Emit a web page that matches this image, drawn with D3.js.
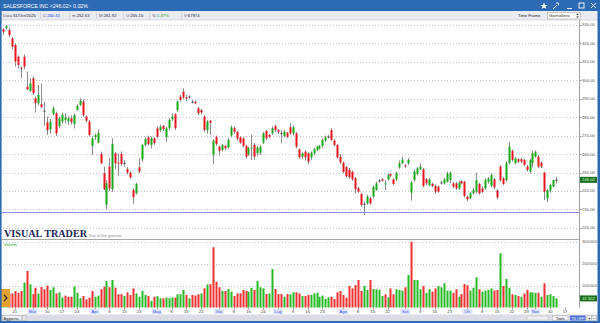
<!DOCTYPE html>
<html><head><meta charset="utf-8">
<script src="https://cdn.jsdelivr.net/npm/d3@7"></script>
<style>
html,body{margin:0;padding:0;background:#fff;overflow:hidden}
svg{display:block;font-family:"Liberation Sans","DejaVu Sans",sans-serif}
</style></head><body>
<svg id="c" width="600" height="323"></svg>
<script>
// ---------------- DATA ----------------
const title = "SALESFORCE INC";
const startDate = "2025-02-14";
const holidays = ["2025-02-17","2025-04-18","2025-05-26","2025-06-19","2025-07-04","2025-09-01","2025-11-27"];
const opens = [327.6,328.5,327.2,322.7,319.1,312.8,306.8,312.8,296.5,294.2,301.0,290.2,287.5,287.0,283.6,277.2,273.4,281.7,282.1,275.2,
277.6,278.5,277.6,279.4,276.3,283.9,286.6,288.4,280.3,277.6,264.4,269.1,266.2,260.0,249.6,232.5,253.2,241.0,260.4,255.3,
260.0,255.2,251.9,249.9,240.5,238.7,252.8,257.1,264.9,269.0,265.0,268.5,273.9,273.0,275.2,269.1,274.0,278.8,281.6,283.9,
291.1,293.8,290.7,291.2,288.4,288.4,284.8,283.9,280.3,273.0,278.1,259.5,269.4,264.0,262.2,264.4,263.6,270.0,274.0,272.1,
269.1,268.5,264.4,260.1,263.0,264.9,260.4,260.7,266.2,272.5,270.3,271.2,275.2,273.0,271.4,269.8,271.6,274.5,271.2,271.2,
262.6,258.6,261.3,260.4,258.2,260.4,262.2,263.1,264.4,267.3,269.5,273.0,267.3,264.9,258.5,255.3,253.0,251.5,250.4,246.8,
241.4,238.4,233.0,233.3,236.0,236.9,240.5,245.7,246.3,243.6,246.3,249.2,246.3,246.3,252.8,255.0,253.8,255.0,239.1,245.9,
249.2,251.7,251.7,246.3,243.1,243.8,242.7,242.3,244.6,244.1,245.0,245.9,244.1,244.1,241.4,245.2,245.0,236.9,236.0,238.7,
239.6,243.8,241.4,241.4,245.0,242.7,246.3,240.2,253.2,246.8,245.9,255.0,261.7,255.0,257.2,257.2,256.8,253.2,250.5,255.15,
258.6,258.6,255.3,249.9,236.0,240.2,242.3,245.9];
const highs = [328.1,330.0,328.5,323.5,320.0,313.5,307.5,314.0,304.7,301.0,302.0,291.1,297.5,298.3,288.4,280.3,279.0,286.0,283.0,280.3,
282.5,282.1,280.5,281.0,282.0,287.0,290.2,289.5,281.0,278.5,269.5,271.0,273.4,261.3,253.2,246.0,258.0,268.5,261.0,260.4,
261.5,256.8,253.0,250.5,241.5,244.5,257.7,265.5,269.0,270.0,269.5,269.0,275.0,276.0,276.0,274.8,279.5,282.0,282.0,289.0,
292.0,295.6,292.0,291.8,289.3,289.0,285.5,284.5,281.0,278.5,278.5,268.0,270.0,264.5,265.5,265.0,268.5,275.5,275.0,272.5,
269.8,269.0,265.0,264.0,270.3,266.0,264.5,265.0,272.0,273.0,271.0,275.0,276.0,273.5,273.0,273.0,272.0,276.7,275.5,272.0,
263.0,261.0,262.0,261.0,261.5,263.5,264.5,265.0,268.5,270.0,270.5,274.0,268.0,265.5,260.0,256.0,253.5,252.5,251.0,247.5,
242.3,239.0,234.2,238.0,237.0,243.0,245.0,246.5,247.0,245.9,249.5,250.0,246.8,250.5,256.5,258.5,254.5,258.0,245.5,251.5,
253.0,255.0,252.5,247.0,247.0,244.5,243.5,243.0,245.5,247.0,250.5,250.5,245.0,245.0,245.5,246.0,245.5,237.5,239.5,241.5,
249.9,244.5,242.5,247.0,247.5,249.5,247.0,241.0,254.0,247.5,256.0,266.7,262.5,258.5,258.0,258.0,257.5,254.0,257.5,261.92,
262.0,259.5,256.0,250.4,241.0,244.0,246.0,247.7];
const lows = [324.5,327.5,323.5,317.0,307.4,306.5,301.0,306.0,294.7,293.5,292.0,282.5,286.6,285.0,275.2,270.3,271.0,281.0,269.8,274.0,
276.5,276.7,276.0,276.0,273.9,283.5,286.0,280.3,277.0,269.5,259.5,267.5,265.8,254.5,240.5,230.0,240.0,239.5,252.0,248.1,
253.5,253.2,249.0,246.5,233.0,238.0,249.6,256.0,264.0,264.5,263.0,265.0,268.5,272.0,272.5,266.5,273.0,278.0,273.0,283.0,
288.4,290.0,288.5,290.2,287.5,287.0,281.0,281.5,272.0,271.0,270.3,254.6,264.5,259.0,261.5,262.0,263.0,269.0,271.0,267.5,
265.5,263.5,257.5,259.0,256.8,257.0,259.0,259.5,265.5,267.5,268.5,270.5,272.0,271.0,265.8,269.0,268.5,270.5,270.0,263.0,
257.5,257.5,256.5,254.5,257.0,259.5,261.5,262.5,263.5,266.5,268.5,267.0,264.0,257.5,254.5,249.5,247.0,246.5,245.5,238.7,
239.0,231.5,227.0,232.5,232.5,236.0,240.0,244.5,245.0,240.5,245.5,247.5,243.0,245.5,252.0,254.5,252.5,254.0,234.7,245.0,
248.5,251.4,242.0,243.0,242.5,242.0,238.5,239.0,243.5,243.5,244.5,244.1,241.5,240.5,240.5,243.5,236.5,234.5,235.5,238.0,
238.7,238.0,239.0,240.5,244.0,242.0,241.0,235.5,245.0,243.0,245.0,254.5,256.0,254.5,255.0,255.0,253.5,250.5,249.5,252.63,
258.0,252.5,252.5,235.1,234.0,239.0,242.0,244.0];
const closes = [326.3,329.4,324.5,318.2,310.1,308.3,306.3,307.4,295.1,298.3,292.9,287.5,292.0,285.5,283.3,273.0,277.6,284.8,271.2,279.4,
281.2,279.9,279.4,277.2,281.2,286.1,288.9,281.2,278.1,270.3,268.5,270.3,271.6,255.0,240.9,244.1,241.4,265.5,255.0,254.8,
254.6,254.8,249.9,247.4,236.6,243.8,250.5,264.9,268.2,265.5,268.5,266.0,269.4,274.8,273.5,273.9,278.5,280.3,274.0,288.4,
289.3,290.7,290.0,291.0,288.2,287.5,282.1,282.5,273.0,277.6,277.0,267.3,265.5,261.8,264.9,263.1,267.6,274.5,272.1,268.4,
266.2,264.4,258.6,263.1,263.5,258.6,263.6,264.0,271.2,268.5,269.4,273.9,273.0,272.1,271.0,272.1,269.4,271.2,274.5,264.0,
258.2,260.4,258.2,255.9,260.7,262.6,264.0,264.4,267.6,269.1,269.3,267.6,264.9,258.2,255.5,250.4,248.0,247.5,246.3,240.9,
239.6,232.4,232.8,236.9,233.3,242.3,244.1,245.5,245.6,244.1,248.6,248.3,243.8,249.9,255.0,257.0,253.3,256.8,244.5,250.5,
252.3,253.2,242.7,244.1,246.3,242.7,239.6,239.6,244.4,246.3,249.6,249.9,242.3,241.4,244.5,244.1,237.3,235.5,238.7,240.5,
245.9,238.7,239.6,245.9,246.8,248.6,242.0,236.5,245.9,243.8,255.0,264.0,256.8,257.7,255.9,255.9,254.1,251.4,256.64,260.41,
261.3,253.2,253.2,239.6,240.5,243.2,245.97,246.02];
const volumeThousands = [70,60,65,64,75,67,75,113,166,105,61,90,64,93,83,99,80,92,64,69,
45,54,49,49,95,67,42,52,37,45,75,49,54,83,95,120,92,125,90,60,
61,52,69,57,87,64,49,75,57,52,30,49,52,42,42,45,42,46,45,60,
60,80,57,42,57,54,60,64,87,105,106,274,117,92,76,75,84,72,52,64,
64,80,75,72,90,80,120,92,87,61,64,175,84,61,61,49,61,60,69,69,
64,52,52,57,57,64,67,49,54,39,46,49,39,69,75,57,45,98,87,102,
125,76,98,80,125,84,83,80,52,60,46,87,60,83,80,77,92,148,299,125,
125,83,98,67,83,72,87,98,92,110,77,77,67,83,49,61,107,101,77,90,
137,83,72,77,80,87,77,80,246,98,130,90,60,57,52,49,64,80,69,67.974,
67,67,49,110,57,60,52,41.302];
const tickDates = ["2025-02-21","2025-03-03","2025-03-10","2025-03-17","2025-03-24","2025-04-01","2025-04-08","2025-04-15","2025-04-23",
"2025-05-01","2025-05-08","2025-05-15","2025-05-22","2025-06-02","2025-06-09","2025-06-16","2025-06-24","2025-07-01","2025-07-09",
"2025-07-16","2025-07-23","2025-08-01","2025-08-08","2025-08-15","2025-08-22","2025-09-02","2025-09-09","2025-09-16","2025-09-23",
"2025-10-01","2025-10-08","2025-10-15","2025-10-22","2025-10-29","2025-11-03","2025-11-10","2025-11-17"];
const monthStarts = ["2025-03-03","2025-04-01","2025-05-01","2025-06-02","2025-07-01","2025-08-01","2025-09-02","2025-10-01","2025-11-03"];
const monthNames = ["Gen","Feb","Mar","Apr","Mag","Giu","Lug","Ago","Set","Ott","Nov","Dic"];
const priceTicks = [220,230,240,250,260,270,280,290,300,310,320,330];
const volumeTicks = [100000,200000,300000];
const supportLevels = [228.6];
const infoDate = "2025-10-31";

// ---------------- BUILD ----------------
const svg = d3.select("#c");
const tradingDays = [];
{ let d = new Date(startDate + "T00:00:00Z");
  while (tradingDays.length < 200) {
    const s = d.toISOString().slice(0,10), wd = d.getUTCDay();
    if (wd !== 0 && wd !== 6 && !holidays.includes(s)) tradingDays.push(s);
    d.setUTCDate(d.getUTCDate() + 1);
  } }
const dayIndex = new Map(tradingDays.map((s,i)=>[s,i]));
const data = closes.map((c,i)=>({i, date: tradingDays[i], o: opens[i], h: highs[i], l: lows[i], c, v: volumeThousands[i]*1000,
  up: i === 0 ? true : c >= closes[i-1]}));

const x = d3.scaleLinear().domain([-1, 195]).range([0, 579.8]);
const y = d3.scaleLinear().domain([230, 330]).range([209.4, 24.9]);
const yv = d3.scaleLinear().domain([0, 300000]).range([307.5, 241.5]);
const RED = "#e8161c", GREEN = "#18a818", VRED = "#f03232", VGREEN = "#26bb26";
const BLUE = "#2c6ab4";
const axisX = 579.5;

// backgrounds
svg.append("rect").attr("width",600).attr("height",323).attr("fill","#fff");

// price grid
svg.append("g").selectAll("line").data(priceTicks).join("line")
  .attr("x1",3).attr("x2",axisX).attr("y1",d=>Math.round(y(d))+0.5).attr("y2",d=>Math.round(y(d))+0.5)
  .attr("stroke","#c4c4cc").attr("stroke-dasharray","1,2");

// support line
svg.append("g").selectAll("line").data(supportLevels).join("line")
  .attr("x1",2).attr("x2",axisX).attr("y1",d=>Math.round(y(d))+0.5).attr("y2",d=>Math.round(y(d))+0.5)
  .attr("stroke","#8c8cf4").attr("stroke-width",1);

// candles
const cg = svg.append("g");
const cx = d => Math.round(x(d.i));
cg.selectAll("line").data(data).join("line")
  .attr("x1",d=>cx(d)+0.5).attr("x2",d=>cx(d)+0.5)
  .attr("y1",d=>y(d.h)).attr("y2",d=>y(d.l))
  .attr("stroke","#8a8a8a").attr("stroke-width",1);
cg.selectAll("rect").data(data).join("rect")
  .attr("x",d=>cx(d)-0.5).attr("width",2)
  .attr("y",d=>y(Math.max(d.o,d.c)))
  .attr("height",d=>Math.max(1, Math.abs(y(d.o)-y(d.c))))
  .attr("fill",d=>Math.abs(d.o-d.c)<0.4 ? "#333" : (d.c>=d.o ? GREEN : RED));

// VISUAL TRADER logo
svg.append("text").attr("x",4).attr("y",237).attr("font-family","'Liberation Serif','DejaVu Serif',serif")
  .attr("font-weight","bold").attr("font-size",10.5).attr("fill","#1c1f5a")
  .attr("textLength",83).attr("lengthAdjust","spacingAndGlyphs").text("VISUAL TRADER");
svg.append("text").attr("x",89).attr("y",237).attr("font-size",3.8).attr("fill","#8a8a8a").text("Dati di fine giornata");

// separator between panels
svg.append("line").attr("x1",2).attr("x2",axisX).attr("y1",239.5).attr("y2",239.5).attr("stroke","#a8a8a8").attr("stroke-width",1.2);

// volume grid
svg.append("g").selectAll("line").data(volumeTicks).join("line")
  .attr("x1",3).attr("x2",axisX).attr("y1",d=>Math.round(yv(d))+0.5).attr("y2",d=>Math.round(yv(d))+0.5)
  .attr("stroke","#c4c4cc").attr("stroke-dasharray","1,2");
svg.append("text").attr("x",4).attr("y",245.5).attr("font-size",4.2).attr("fill","#22aa22").text("Volumi");

// volume bars
svg.append("g").selectAll("rect").data(data).join("rect")
  .attr("x",d=>cx(d)-0.5).attr("width",2)
  .attr("y",d=>yv(d.v)).attr("height",d=>yv(0)-yv(d.v))
  .attr("fill",d=>d.up ? VGREEN : VRED);

// right axis
svg.append("line").attr("x1",axisX).attr("x2",axisX).attr("y1",20).attr("y2",308).attr("stroke","#a0a0a8");
svg.append("g").selectAll("text").data(priceTicks).join("text")
  .attr("x",582).attr("y",d=>y(d)+1.5).attr("font-size",4.2).attr("fill","#555").text(d=>d.toFixed(2));
svg.append("g").selectAll("line").data(priceTicks).join("line")
  .attr("x1",axisX).attr("x2",axisX+2).attr("y1",d=>Math.round(y(d))+0.5).attr("y2",d=>Math.round(y(d))+0.5).attr("stroke","#999");
const fmtV = d3.formatLocale({decimal:".", thousands:"'", grouping:[3], currency:["",""]}).format(",.0f");
svg.append("g").selectAll("text").data(volumeTicks).join("text")
  .attr("x",582).attr("y",d=>yv(d)+1.5).attr("font-size",4.2).attr("fill","#555").text(d=>fmtV(d));

// last price / last volume boxes
const last = data[data.length-1];
svg.append("rect").attr("x",580).attr("y",y(last.c)-3).attr("width",17).attr("height",6).attr("fill","#1c6e1c");
svg.append("text").attr("x",588.5).attr("y",y(last.c)+1.5).attr("text-anchor","middle").attr("font-size",4.2).attr("fill","#cfffcf").text(last.c.toFixed(2));
svg.append("rect").attr("x",580).attr("y",yv(last.v)-3).attr("width",17).attr("height",6).attr("fill","#1c6e1c");
svg.append("text").attr("x",588.5).attr("y",yv(last.v)+1.5).attr("text-anchor","middle").attr("font-size",4.2).attr("fill","#cfffcf").text(fmtV(last.v));

// x axis ticks and labels
const ticks = tickDates.map(s=>({s, i: dayIndex.get(s), month: monthStarts.includes(s)}));
svg.append("g").selectAll("line").data(ticks).join("line")
  .attr("x1",d=>Math.round(x(d.i))+0.5).attr("x2",d=>Math.round(x(d.i))+0.5).attr("y1",307.5).attr("y2",309.5).attr("stroke","#999");
const tl = svg.append("g");
tl.selectAll("rect").data(ticks.filter(d=>d.month)).join("rect")
  .attr("x",d=>x(d.i)-5).attr("y",309).attr("width",10).attr("height",5).attr("fill","#dfe5ff");
tl.selectAll("text").data(ticks).join("text")
  .attr("x",d=>x(d.i)).attr("y",313.2).attr("text-anchor","middle").attr("font-size",4.2)
  .attr("fill",d=>d.month ? "#3a55e8" : "#444")
  .text(d=>d.month ? monthNames[+d.s.slice(5,7)-1] : String(+d.s.slice(8,10)));

// orange expander box
svg.append("rect").attr("x",1).attr("y",289).attr("width",9).attr("height",18).attr("fill","#e3a22e");
svg.append("path").attr("d","M4,295 L7,298 L4,301").attr("fill","none").attr("stroke","#333").attr("stroke-width",1.3);

// bottom toolbar
svg.append("rect").attr("x",0).attr("y",314.5).attr("width",600).attr("height",6.5).attr("fill","#dcdce6");
svg.append("rect").attr("x",2.5).attr("y",315.5).attr("width",19).attr("height",5).attr("fill","#f2f2f6").attr("stroke","#aaa").attr("stroke-width",0.5);
svg.append("text").attr("x",3.5).attr("y",319.6).attr("font-size",3.8).attr("fill","#222").text("Aggiorna");
svg.append("rect").attr("x",22.5).attr("y",315.5).attr("width",3.5).attr("height",5).attr("fill","#e8e8ee").attr("stroke","#aaa").attr("stroke-width",0.5);
svg.append("rect").attr("x",527).attr("y",316).attr("width",21).attr("height",4).attr("fill","#eeeef2").attr("stroke","#bbb").attr("stroke-width",0.5);
svg.append("rect").attr("x",552.5).attr("y",315.5).attr("width",15.5).attr("height",5).attr("fill","#f2f2f6").attr("stroke","#aaa").attr("stroke-width",0.5);
svg.append("text").attr("x",560.2).attr("y",319.6).attr("text-anchor","middle").attr("font-size",3.8).attr("fill","#222").text("Tools");
svg.append("rect").attr("x",570).attr("y",315.5).attr("width",15.5).attr("height",5).attr("fill","#4c6fcf");
svg.append("text").attr("x",577.7).attr("y",319.6).attr("text-anchor","middle").attr("font-size",3.8).attr("fill","#fff").text("TS OFF");
svg.append("rect").attr("x",587).attr("y",315.5).attr("width",4.5).attr("height",5).attr("fill","#f2f2f6").attr("stroke","#aaa").attr("stroke-width",0.5);
svg.append("text").attr("x",589.2).attr("y",319.6).attr("text-anchor","middle").attr("font-size",4.5).attr("fill","#222").text("+");
svg.append("rect").attr("x",592).attr("y",315.5).attr("width",4.5).attr("height",5).attr("fill","#f2f2f6").attr("stroke","#aaa").attr("stroke-width",0.5);
svg.append("text").attr("x",594.2).attr("y",319.6).attr("text-anchor","middle").attr("font-size",4.5).attr("fill","#222").text("−");

// title bar
svg.append("rect").attr("x",0).attr("y",0).attr("width",600).attr("height",11).attr("fill",BLUE);
const prevClose = data[data.length-2].c;
const chg = (last.c/prevClose - 1)*100;
svg.append("text").attr("x",3).attr("y",8).attr("font-size",5.2).attr("fill","#fff")
  .text(`${title} <${last.c.toFixed(2)}> ${chg.toFixed(2)}%`);
// window icons
const ic = svg.append("g").attr("stroke","#fff").attr("fill","none").attr("stroke-width",0.9);
ic.append("path").attr("d","M544,2.5 L545,5 L547.5,5 L545.5,6.5 L546.3,9 L544,7.5 L541.7,9 L542.5,6.5 L540.5,5 L543,5 Z").attr("fill","#fff").attr("stroke","none");
ic.append("path").attr("d","M553,9 L557,5 M556,3 L558.5,3 L558.5,5.5");
ic.append("line").attr("x1",567).attr("x2",572).attr("y1",8.5).attr("y2",8.5);
ic.append("rect").attr("x",579).attr("y",3).attr("width",5).attr("height",5);
ic.append("path").attr("d","M591,3 L596,8 M596,3 L591,8");

// info row
svg.append("rect").attr("x",0).attr("y",11).attr("width",600).attr("height",9).attr("fill","#ebebf3");
svg.append("line").attr("x1",0).attr("x2",600).attr("y1",20).attr("y2",20).attr("stroke","#c6c6d2").attr("stroke-width",0.6);
const di = dayIndex.get(infoDate);
const fmtDate = s => { const [Y,M,D] = s.split("-"); return `${D}/${["Jan","Feb","Mar","Apr","May","Jun","Jul","Aug","Sep","Oct","Nov","Dec"][+M-1]}/${Y}`; };
const pct = (closes[di]/closes[di-1]-1)*100;
const fields = [
  {x:3, k:"Data:", v:fmtDate(infoDate), col:"#222"},
  {x:43, k:"C:", v:closes[di].toFixed(2), col:"#2040e0"},
  {x:72, k:"m:", v:lows[di].toFixed(2), col:"#222"},
  {x:99, k:"M:", v:highs[di].toFixed(2), col:"#222"},
  {x:126, k:"O:", v:opens[di].toFixed(2), col:"#222"},
  {x:152, k:"%:", v:pct.toFixed(2)+"%", col:"#22a022"},
  {x:184, k:"V:", v:String(Math.round(volumeThousands[di]*1000)), col:"#222"}
];
const fg = svg.append("g");
fields.forEach((f,j)=>{
  const t = fg.append("text").attr("x",f.x).attr("y",17.3).attr("font-size",4.2);
  t.append("tspan").attr("fill","#555").text(f.k);
  t.append("tspan").attr("fill",f.col).text(f.v);
  if (j>0) fg.append("line").attr("x1",f.x-2.5).attr("x2",f.x-2.5).attr("y1",12.5).attr("y2",19).attr("stroke","#c0c0cc").attr("stroke-width",0.5);
});
svg.append("text").attr("x",518).attr("y",17.3).attr("font-size",4.2).attr("fill","#222").text("Time Frame");
svg.append("rect").attr("x",547.5).attr("y",12.5).attr("width",33).attr("height",6.5).attr("fill","#fff").attr("stroke","#999").attr("stroke-width",0.5);
svg.append("text").attr("x",549).attr("y",17.3).attr("font-size",4.2).attr("fill","#222").text("Giornaliero");
svg.append("path").attr("d","M576,15 L577.5,13.5 L579,15 Z M576,16.5 L577.5,18 L579,16.5 Z").attr("fill","#333");

// window frame
svg.append("rect").attr("x",0).attr("y",0).attr("width",1.6).attr("height",323).attr("fill",BLUE);
svg.append("rect").attr("x",597.5).attr("y",0).attr("width",2.5).attr("height",323).attr("fill",BLUE);
svg.append("rect").attr("x",0).attr("y",321).attr("width",600).attr("height",2).attr("fill",BLUE);
</script>
</body></html>
